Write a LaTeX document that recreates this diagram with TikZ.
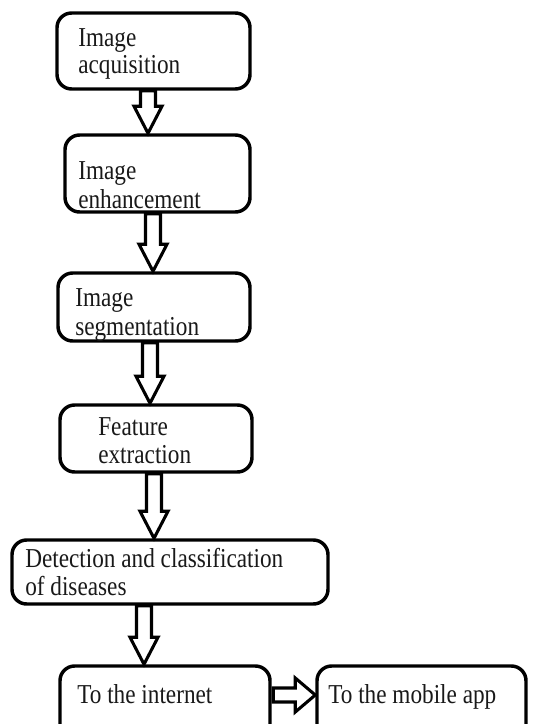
\documentclass[tikz,border=0pt]{standalone}
\usepackage{fontspec}
\setmainfont{Liberation Serif}[FakeStretch=0.85]
\usetikzlibrary{calc}
\tikzset{
  box/.style={draw=black, line width=2.6pt, rounded corners=11pt, inner sep=0pt, fill=none},
  lbl/.style={anchor=base west, inner sep=0pt, font=\fontsize{20.5pt}{24pt}\selectfont, text=black!90},
  blk/.style={draw=black, line width=2.3pt, fill=white, line join=miter},
}
\newcommand{\mkbox}[5]{%
  \node[box, minimum width={(#4-#2)*0.75pt}, minimum height={(#5-#3)*0.75pt}] (#1) at ({(#2+#4)/2},{(#3+#5)/2}) {};}
\newcommand{\blkdown}[3]{%
  \path (#1.south -| #3,0) coordinate (#1s) (#2.north -| #3,0) coordinate (#2n);
  \draw[blk] ($(#1s)+(-7.5,0)$) -- ($(#1s)+(7.5,0)$) -- ($(#2n)+(7.5,-27)$) -- ($(#2n)+(14,-27)$)
    -- (#2n) -- ($(#2n)+(-14,-27)$) -- ($(#2n)+(-7.5,-27)$) -- cycle;}
\begin{document}
\begin{tikzpicture}[x=0.75pt,y=-0.75pt]
\clip (0,0) rectangle (536,724);
\fill[white] (0,0) rectangle (536,724);
% boxes
\mkbox{b1}{57}{13}{250}{89}
\mkbox{b2}{65}{135}{250}{212}
\mkbox{b3}{58}{273}{250}{341}
\mkbox{b4}{60}{405}{252}{472}
\mkbox{b5}{12}{540}{328}{604}
\mkbox{b6}{60}{666}{270}{745}
\mkbox{b7}{317}{666}{526}{745}
% texts
\node[lbl] (t1a) at (78,47) {Image};
\node[lbl] (t1b) at (78,74) {acquisition};
\node[lbl] (t2a) at (78,179) {Image};
\node[lbl] (t2b) at (78,208) {enhancement};
\node[lbl] (t3a) at (75,306) {Image};
\node[lbl] (t3b) at (75,335) {segmentation};
\node[lbl] (t4a) at (98,435) {Feature};
\node[lbl] (t4b) at (98,463) {extraction};
\node[lbl] (t5a) at (25,567) {Detection and classification};
\node[lbl] (t5b) at (25,595) {of diseases};
\node[lbl] (t6) at (77,703) {To the internet};
\node[lbl] (t7) at (328,703) {To the mobile app};
% block arrows
\blkdown{b1}{b2}{148}
\blkdown{b2}{b3}{153}
\blkdown{b3}{b4}{150}
\blkdown{b4}{b5}{154}
\blkdown{b5}{b6}{144}
\path (b6.east |- 0,695) coordinate (hs) (b7.west |- 0,695) coordinate (he);
\draw[blk] ($(hs)+(1.5,-7)$) -- ($(he)+(-20,-7)$) -- ($(he)+(-20,-17)$) -- (he)
  -- ($(he)+(-20,17)$) -- ($(he)+(-20,7)$) -- ($(hs)+(1.5,7)$) -- cycle;
\end{tikzpicture}
\end{document}
